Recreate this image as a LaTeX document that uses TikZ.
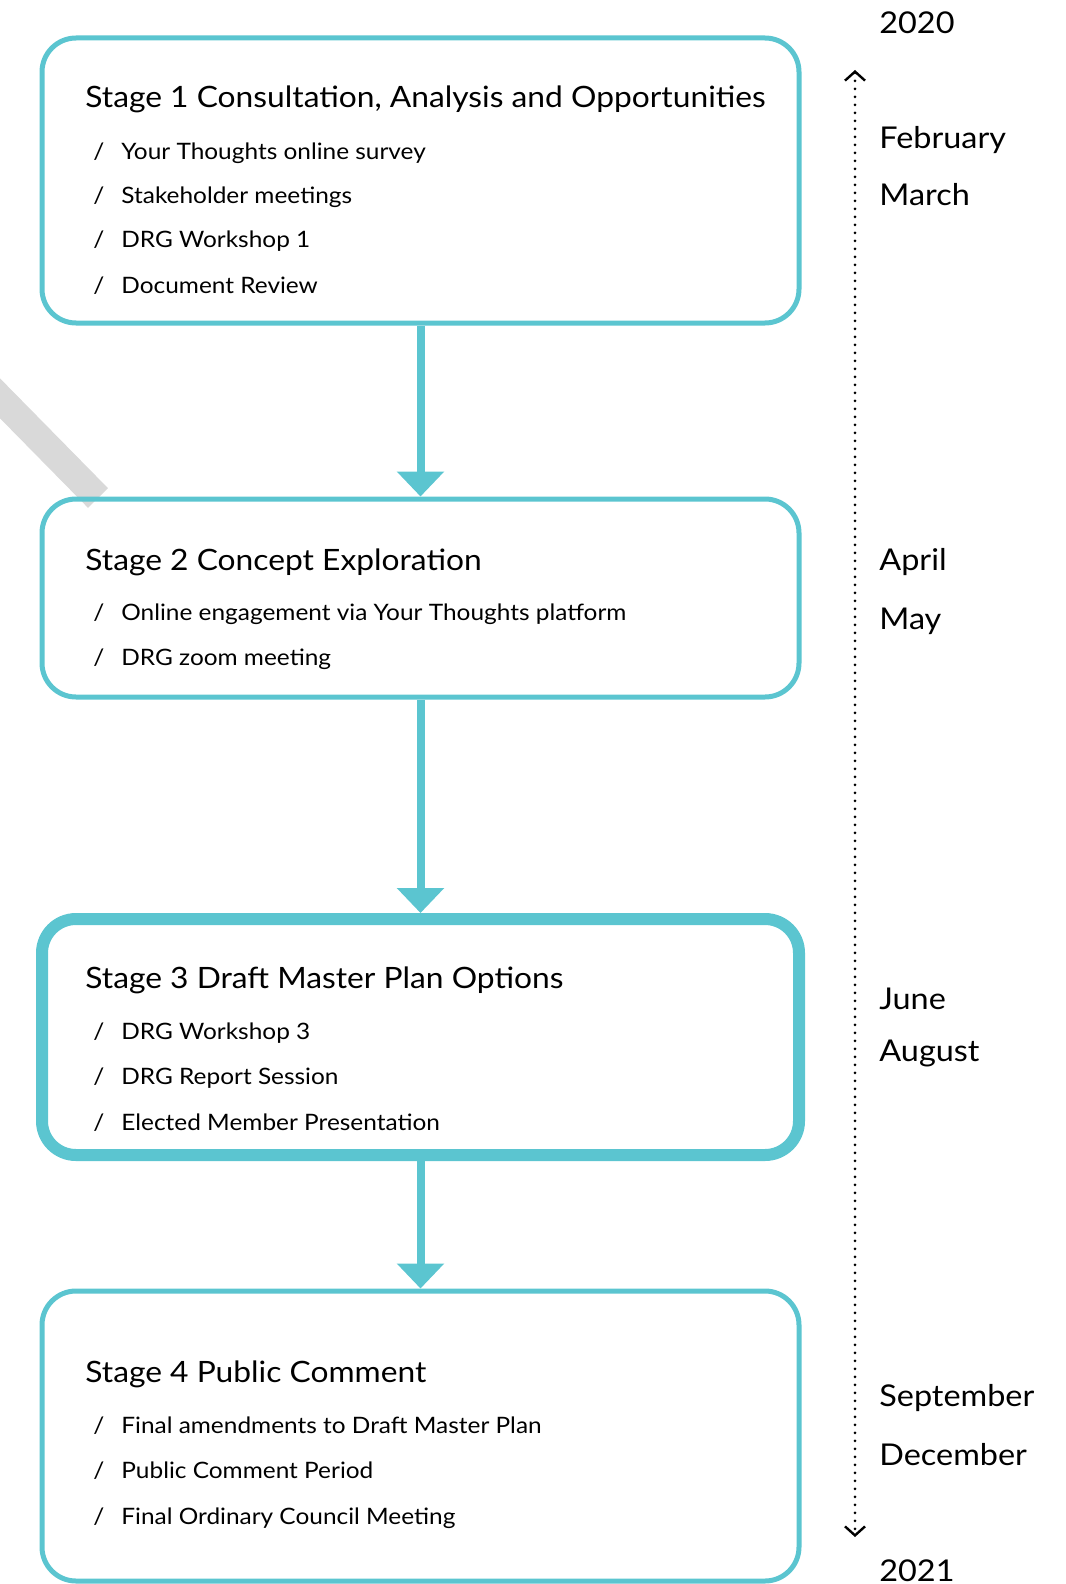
\documentclass[tikz,border=0pt]{standalone}
\usepackage{fontspec}
\setmainfont{Lato}[FakeStretch = 1.08]
\usetikzlibrary{arrows.meta}

\definecolor{teal}{HTML}{5BC5D0}

\tikzset{
	stagebox/.style = {draw = teal, line width = 2.5pt, rounded corners = 17pt, inner sep = 0pt},
	keystage/.style = {stagebox, line width = 6pt},
	stagetitle/.style = {anchor = west, inner sep = 0pt, text height = 0.72em, text depth = 0pt, font = \fontsize{14.7}{17}\selectfont},
	stageitem/.style = {anchor = west, inner sep = 0pt, text height = 0.72em, text depth = 0pt, font = \fontsize{11.3}{13}\selectfont},
	month/.style = {anchor = west, inner sep = 0pt, text height = 0.72em, text depth = 0pt, font = \fontsize{15}{18}\selectfont},
	flowarrow/.style = {draw = teal, line width = 4pt, -{Triangle[width = 23pt, length = 12.5pt]}},
	timeline/.style = {line width = 1.5pt, dash pattern = on 0pt off 4pt, line cap = round,
		{Straight Barb[length = 4.5pt, width = 10pt, line width = 1.2pt]}-{Straight Barb[length = 4.5pt, width = 10pt, line width = 1.2pt]}}
}
\newcommand\itm[1]{\makebox[14pt][l]{/}#1}

\begin{document}
\begin{tikzpicture}[x = 0.5pt, y = -0.5pt]
	\useasboundingbox (0,0) rectangle (1065,1584);

	% watermark strip
	\draw[line width = 14pt, gray, opacity = 0.3] (-20,378) -- (98,498);

	% stages
	\node[stagebox, minimum width = 378.5pt, minimum height = 142.5pt] (S1) at (420.5,180.5) {};
	\node[stagebox, minimum width = 378.5pt, minimum height = 99pt] (S2) at (420.5,598) {};
	\node[keystage, minimum width = 378.5pt, minimum height = 118pt] (S3) at (420.5,1037) {};
	\node[stagebox, minimum width = 378.5pt, minimum height = 145pt] (S4) at (420.5,1436) {};

	\node[stagetitle] (T1) at (85,100) {Stage 1 Consultation, Analysis and Opportunities};
	\node[stageitem] (T1a) at (93,152) {\itm{Your Thoughts online survey}};
	\node[stageitem] (T1b) at (93,196) {\itm{Stakeholder meetings}};
	\node[stageitem] (T1c) at (93,240) {\itm{DRG Workshop 1}};
	\node[stageitem] (T1d) at (93,286) {\itm{Document Review}};

	\node[stagetitle] (T2) at (85,563) {Stage 2 Concept Exploration};
	\node[stageitem] (T2a) at (93,613) {\itm{Online engagement via Your Thoughts platform}};
	\node[stageitem] (T2b) at (93,658) {\itm{DRG zoom meeting}};

	\node[stagetitle] (T3) at (85,981) {Stage 3 Draft Master Plan Options};
	\node[stageitem] (T3a) at (93,1032) {\itm{DRG Workshop 3}};
	\node[stageitem] (T3b) at (93,1077) {\itm{DRG Report Session}};
	\node[stageitem] (T3c) at (93,1123) {\itm{Elected Member Presentation}};

	\node[stagetitle] (T4) at (85,1375) {Stage 4 Public Comment};
	\node[stageitem] (T4a) at (93,1426) {\itm{Final amendments to Draft Master Plan}};
	\node[stageitem] (T4b) at (93,1471) {\itm{Public Comment Period}};
	\node[stageitem] (T4c) at (93,1517) {\itm{Final Ordinary Council Meeting}};

	% flow
	\draw[flowarrow] (S1.south) -- (S2.north);
	\draw[flowarrow] (S2.south) -- (S3.north);
	\draw[flowarrow] (S3.south) -- (S4.north);

	% timeline
	\coordinate (Y1) at (855,70);
	\coordinate (Y2) at (855,1537);
	\draw[timeline] (Y1) -- (Y2);

	\node[month] (M0) at (879,26) {2020};
	\node[month] (M1) at (879,141) {February};
	\node[month] (M2) at (879,198) {March};
	\node[month] (M3) at (879,563) {April};
	\node[month] (M4) at (879,622) {May};
	\node[month] (M5) at (879,1002) {June};
	\node[month] (M6) at (879,1054) {August};
	\node[month] (M7) at (879,1399) {September};
	\node[month] (M8) at (879,1458) {December};
	\node[month] (M9) at (879,1574) {2021};
\end{tikzpicture}
\end{document}
